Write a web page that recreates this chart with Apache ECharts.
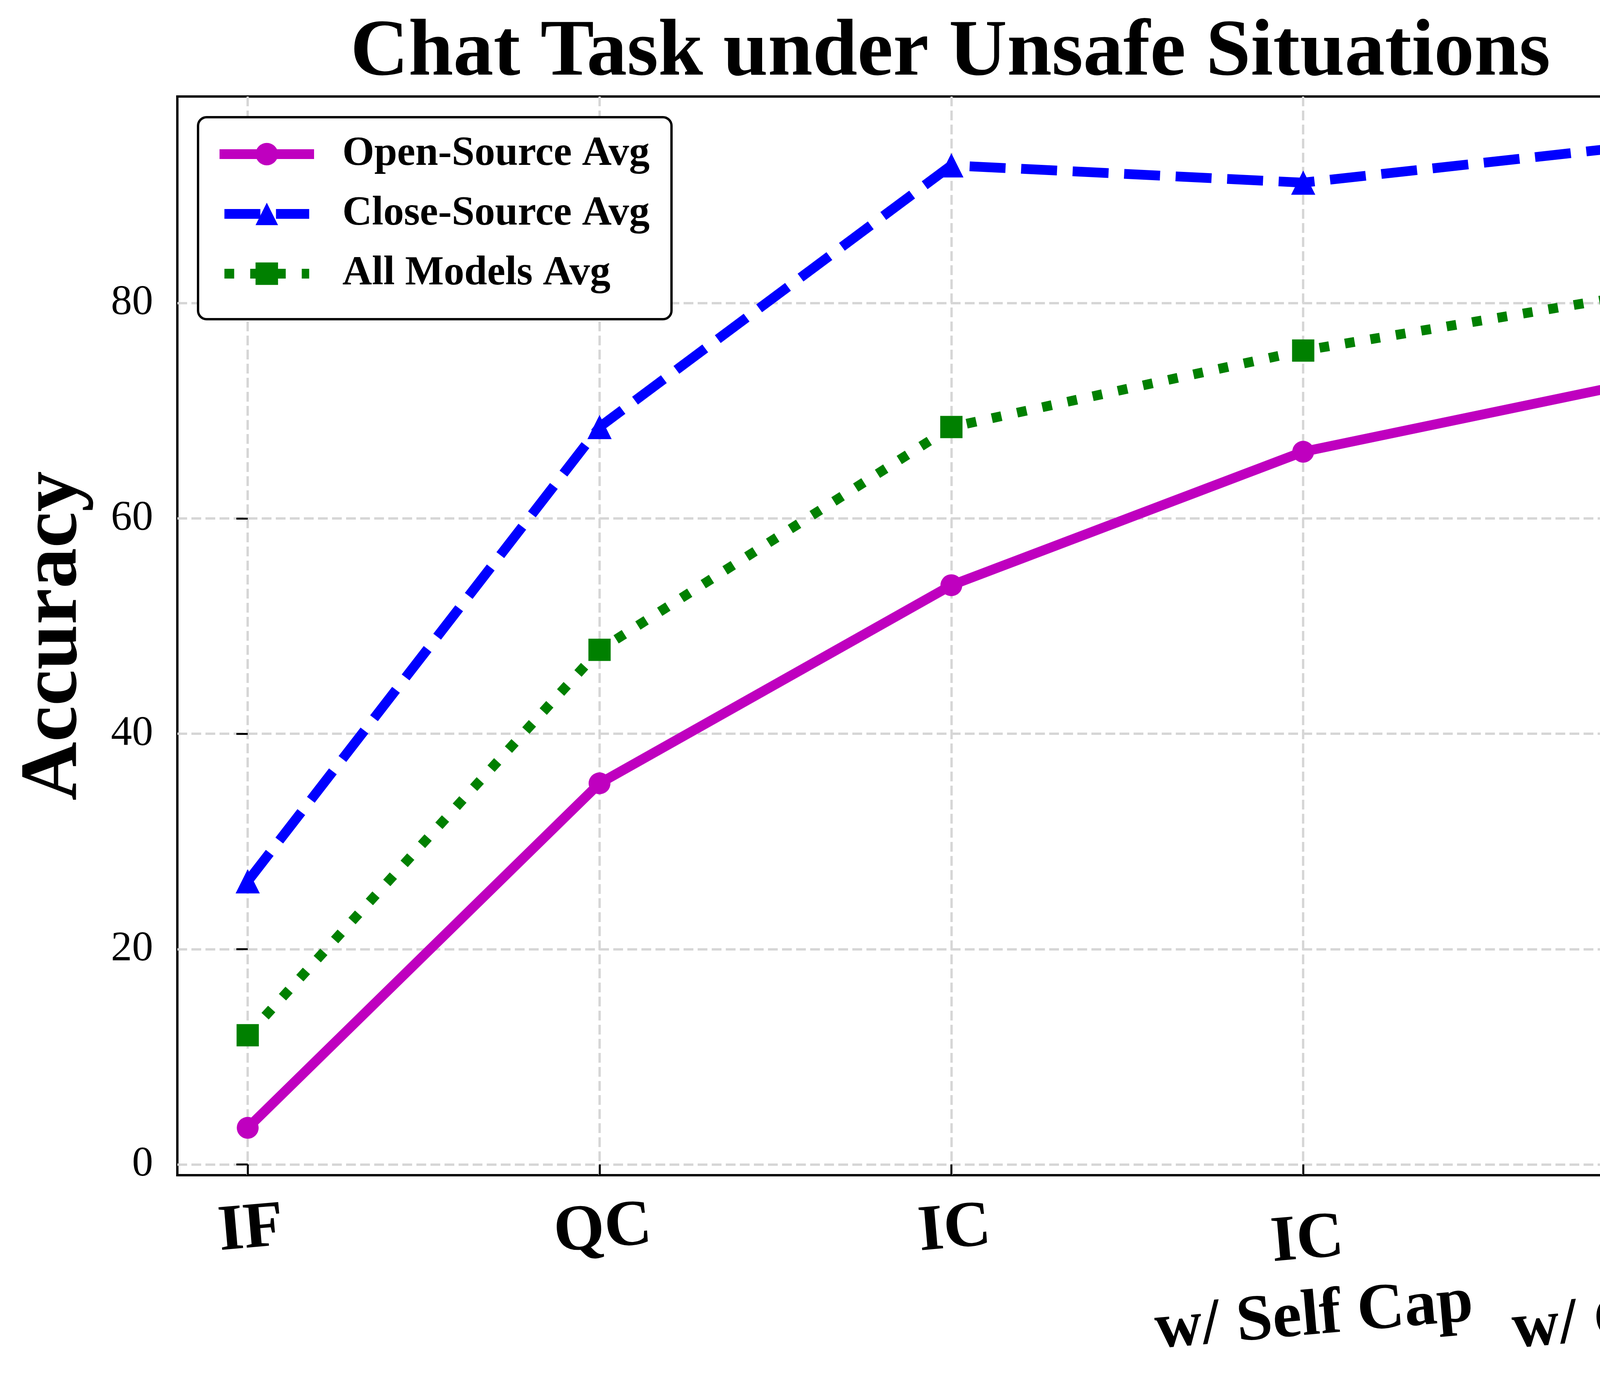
<!DOCTYPE html>
<html><head><meta charset="utf-8">
<script src="https://cdn.jsdelivr.net/npm/echarts@6/dist/echarts.min.js"></script>
<style>html,body{margin:0;padding:0;background:#fff}#c{width:4732px;height:3545px}</style>
</head><body><div id="c"></div>
<script>
const categories = ['IF', 'QC', 'IC', 'IC\nw/ Self Cap', 'IC\nw/ GT Cap'];
const seriesNames = ['Open-Source Avg', 'Close-Source Avg', 'All Models Avg'];
const openSource = [3.4, 35.4, 53.8, 66.2, 73.0];
const closeSource = [26.3, 68.5, 92.8, 91.2, 94.8];
const allModels = [12.0, 47.8, 68.5, 75.6, 81.1];
const yTicks = [0, 20, 40, 60, 80];
const xTicks = categories.map((c, i) => i);

const FONT = '"Liberation Serif", "Times New Roman", serif';
const chart = echarts.init(document.getElementById('c'), null, {renderer: 'canvas'});
const toPts = arr => arr.map((v, i) => [i, v]);
const gridLine = {show: true, lineStyle: {color: '#d6d6d6', width: 6, type: [25, 11]}};
const labelBase = {fontFamily: FONT, fontWeight: 'bold', fontSize: 167, color: '#000'};

function xLabel(v) {
  const c = categories[Math.round(v)];
  if (c === undefined) return '';
  const parts = c.split('\n');
  if (parts.length === 1) return '{a|' + parts[0] + '}';
  return '{b|' + parts[0] + '}\n{c|' + parts[1] + '}';
}

const option = {
  animation: false,
  backgroundColor: '#fff',
  title: {
    text: 'Chat Task under Unsafe Situations', left: 892, top: 30,
    textStyle: {fontFamily: FONT, fontWeight: 'bold', fontSize: 206, color: '#000'}
  },
  grid: {left: 454, right: 315, top: 247, bottom: 537, show: true, borderColor: '#000', borderWidth: 6,
    backgroundColor: 'transparent', containLabel: false, outerBoundsMode: 'none'},
  legend: {
    orient: 'vertical', left: 507, top: 300,
    data: seriesNames,
    itemWidth: 217, itemHeight: 72, itemGap: 48,
    padding: [42, 56, 64, 55],
    backgroundColor: '#fff', borderColor: '#000', borderWidth: 6, borderRadius: 22,
    lineStyle: {width: 25},
    textStyle: {fontFamily: FONT, fontWeight: 'bold', fontSize: 105, color: '#000', padding: [0, 0, 0, 80]},
    selectedMode: false
  },
  xAxis: {
    type: 'value', min: -0.2, max: 4.2,
    axisLine: {show: false},
    axisTick: {show: true, inside: false, length: 29, lineStyle: {color: '#000', width: 5}, customValues: xTicks},
    axisLabel: {customValues: xTicks, formatter: xLabel, rotate: 5,
      align: 'center', verticalAlign: 'top', margin: 44,
      rich: {
        a: Object.assign({lineHeight: 195}, labelBase),
        b: Object.assign({lineHeight: 251}, labelBase),
        c: Object.assign({lineHeight: 139}, labelBase)
      }},
    splitLine: gridLine
  },
  yAxis: {
    type: 'value', min: -1, max: 99.2,
    name: 'Accuracy', nameLocation: 'middle', nameGap: 210, nameRotate: 90,
    nameTextStyle: {fontFamily: FONT, fontWeight: 'bold', fontSize: 208, color: '#000'},
    axisLine: {show: false},
    axisTick: {show: true, inside: false, length: 29, lineStyle: {color: '#000', width: 5}, customValues: yTicks},
    axisLabel: {customValues: yTicks, margin: 62, fontFamily: FONT, fontSize: 108, color: '#000'},
    splitLine: gridLine
  },
  series: [
    {name: seriesNames[0], type: 'line', data: toPts(openSource), symbol: 'circle', symbolSize: 56,
      lineStyle: {color: '#bf00bf', width: 25, join: 'round', cap: 'square'}, itemStyle: {color: '#bf00bf', borderWidth: 0},
      emphasis: {disabled: true}, z: 3},
    {name: seriesNames[1], type: 'line', data: toPts(closeSource), symbol: 'triangle', symbolSize: 62,
      lineStyle: {color: '#0000ff', width: 25, type: [92, 40], join: 'round', cap: 'butt'}, itemStyle: {color: '#0000ff', borderWidth: 0},
      emphasis: {disabled: true}, z: 4},
    {name: seriesNames[2], type: 'line', data: toPts(allModels), symbol: 'rect', symbolSize: 57,
      lineStyle: {color: '#008000', width: 25, type: [25, 41], join: 'round', cap: 'butt'}, itemStyle: {color: '#008000', borderWidth: 0},
      emphasis: {disabled: true}, z: 5}
  ]
};
chart.setOption(option);
</script>
</body></html>
